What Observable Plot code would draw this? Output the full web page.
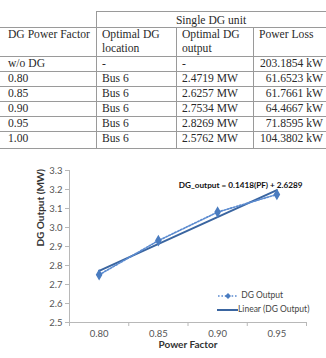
<!DOCTYPE html>
<html>
<head>
<meta charset="utf-8">
<script src="https://cdn.jsdelivr.net/npm/d3@7"></script>
<script src="https://cdn.jsdelivr.net/npm/@observablehq/plot@0.6"></script>
<style>
  html, body { margin: 0; padding: 0; background: #fff; }
  #wrap { position: relative; width: 326px; height: 358px; overflow: hidden; }
  .cell { position: absolute; font-family: "Liberation Serif", "Times New Roman", serif; font-size: 11.6px; color: #2a2a2a; line-height: 14px; white-space: nowrap; }
  .hl { position: absolute; height: 0; border-top: 1px solid #9a9a9a; }
  .vl { position: absolute; width: 0; border-left: 1px solid #9a9a9a; }
  #chart { position: absolute; left: 0; top: 150px; }
  .leg { position: absolute; font-family: Lato, "Open Sans", sans-serif; font-size: 8.5px; color: #444; }
</style>
</head>
<body>
<div id="wrap"></div>
<script>
// ---------- table data ----------
const groupHeader = "Single DG unit";
const colHeaders = ["DG Power Factor", "Optimal DG\nlocation", "Optimal DG\noutput", "Power Loss"];
const pfLabels = ["w/o DG", "0.80", "0.85", "0.90", "0.95", "1.00"];
const locations = ["-", "Bus 6", "Bus 6", "Bus 6", "Bus 6", "Bus 6"];
const outputs = ["-", "2.4719 MW", "2.6257 MW", "2.7534 MW", "2.8269 MW", "2.5762 MW"];
const losses = ["203.1854 kW", "61.6523 kW", "61.7661 kW", "64.4667 kW", "71.8595 kW", "104.3802 kW"];

// ---------- chart data ----------
const chartPF = [0.80, 0.85, 0.90, 0.95];
const chartOutput = [2.751, 2.931, 3.081, 3.174];
const yTicks = [2.5, 2.6, 2.7, 2.8, 2.9, 3.0, 3.1, 3.2, 3.3];
const seriesName = "DG Output";
const trendName = "Linear (DG Output)";
const equation = "DG_output = 0.1418(PF) + 2.6289";

// ---------- table layout ----------
const wrap = document.getElementById("wrap");
const colX = [0, 96, 176, 253, 330];
const lineY = [11, 27, 56, 71, 86, 101, 116, 131, 148];
function add(cls, style, text) {
  const d = document.createElement("div");
  d.className = cls;
  Object.assign(d.style, style);
  if (text != null) d.textContent = text;
  wrap.appendChild(d);
  return d;
}
// horizontal lines
add("hl", {left: colX[1] + "px", top: lineY[0] + "px", width: (326 - colX[1]) + "px"});
for (let i = 1; i < lineY.length; i++) add("hl", {left: "0px", top: lineY[i] + "px", width: "326px"});
// vertical lines
add("vl", {left: colX[1] + "px", top: lineY[0] + "px", height: (lineY[lineY.length - 1] - lineY[0]) + "px"});
for (let c = 2; c <= 3; c++) add("vl", {left: colX[c] + "px", top: lineY[1] + "px", height: (lineY[lineY.length - 1] - lineY[1]) + "px"});
// group header
add("cell", {left: colX[1] + "px", width: (326 - colX[1]) + "px", textAlign: "center", top: (lineY[0] + 3) + "px"}, groupHeader);
// column headers
const pads = [8, 6, 6, 6];
colHeaders.forEach((h, c) => {
  add("cell", {left: (colX[c] + pads[c]) + "px", top: (lineY[1] + 1) + "px", whiteSpace: "pre"}, h);
});
// rows
const rows = pfLabels.map((p, i) => [p, locations[i], outputs[i], losses[i]]);
rows.forEach((r, i) => {
  const top = lineY[i + 2] + 1;
  add("cell", {left: (colX[0] + 8) + "px", top: top + "px"}, r[0]);
  add("cell", {left: (colX[1] + 6) + "px", top: top + "px"}, r[1]);
  add("cell", {left: (colX[2] + 6) + "px", top: top + "px"}, r[2]);
  add("cell", {right: "3px", top: top + "px", textAlign: "right"}, r[3]);
});

// ---------- chart ----------
const data = chartPF.map((pf, i) => ({pf, out: chartOutput[i]}));
const bounds = chartPF.map(p => p - 0.025).concat([chartPF[chartPF.length - 1] + 0.025]);
const font = "Lato, 'Open Sans', sans-serif";
const chart = Plot.plot({
  width: 326,
  height: 208,
  marginLeft: 69,
  marginRight: 20,
  marginTop: 20,
  marginBottom: 36,
  style: {fontFamily: font, fontSize: "9.5px", color: "#555", background: "transparent"},
  x: {domain: [bounds[0], bounds[bounds.length - 1]]},
  y: {domain: [2.5, 3.3]},
  marks: [
    Plot.ruleX([bounds[0]], {stroke: "#b8b8b8"}),
    Plot.ruleY([2.5], {stroke: "#b8b8b8"}),
    Plot.axisY(yTicks, {tickSize: 4, tickPadding: 3, tickFormat: d3.format(".1f"), stroke: "#b8b8b8", fill: "#555", label: null}),
    Plot.axisX(bounds, {tickSize: 4, tickFormat: () => "", stroke: "#b8b8b8", label: null}),
    Plot.axisX(chartPF, {tickSize: 0, tickPadding: 8, tickFormat: d3.format(".2f"), fill: "#555", label: null}),
    Plot.linearRegressionY(data, {x: "pf", y: "out", stroke: "#3A65A0", strokeWidth: 2, ci: 0}),
    Plot.line(data, {x: "pf", y: "out", stroke: "#5B8BD0", strokeWidth: 1.7, strokeDasharray: "1.6,1.6"}),
    Plot.dot(data, {x: "pf", y: "out", symbol: "diamond", r: 2.6, fill: "#4A7CC0", stroke: "#4A7CC0"}),
    Plot.text([equation], {frameAnchor: "top-right", dx: -4, dy: 12, textAnchor: "end", fontWeight: "bold", fontSize: 8.2, fill: "#111"}),
    Plot.text(["Power Factor"], {frameAnchor: "bottom", dy: 25, fontWeight: "bold", fontSize: 10, fill: "#333"}),
    Plot.text(["DG Output (MW)"], {frameAnchor: "left", dx: -29, rotate: -90, fontWeight: "bold", fontSize: 10, fill: "#333"})
  ]
});
chart.id = "chart";
wrap.appendChild(chart);

// ---------- legend (inside plot area) ----------
const leg1 = add("leg", {left: "217px", top: "290px"});
leg1.innerHTML = '<svg width="22" height="10" style="vertical-align:middle"><line x1="1" y1="5" x2="21" y2="5" stroke="#5B8BD0" stroke-width="1.6" stroke-dasharray="1.6,1.8"/><path d="M11,2 L14,5 L11,8 L8,5 Z" fill="#4A7CC0"/></svg>';
leg1.appendChild(document.createTextNode(" " + seriesName));
const leg2 = add("leg", {left: "217px", top: "304px"});
leg2.innerHTML = '<svg width="21" height="10" style="vertical-align:middle"><line x1="0" y1="5" x2="21" y2="5" stroke="#3A65A0" stroke-width="2"/></svg>';
leg2.appendChild(document.createTextNode(trendName));
</script>
</body>
</html>
